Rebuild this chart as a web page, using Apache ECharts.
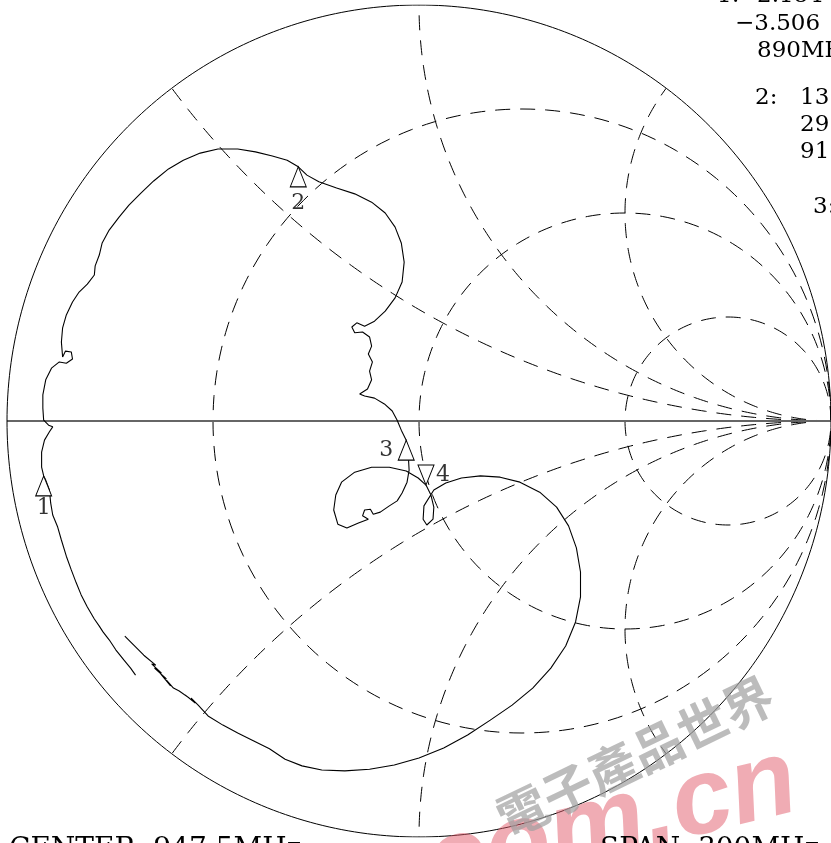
<!DOCTYPE html>
<html>
<head>
<meta charset="utf-8">
<script src="https://cdn.jsdelivr.net/npm/echarts@6/dist/echarts.min.js"></script>
<style>
html, body { margin: 0; padding: 0; background: #fff; }
#chart { width: 831px; height: 843px; }
</style>
</head>
<body>
<div id="chart"></div>
<script>
// S11 trace, reflection coefficient (real / imaginary), from sweep start to stop
var traceRe = [-0.688, -0.700, -0.716, -0.736, -0.752, -0.767, -0.776, -0.788, -0.805, -0.820,
  -0.832, -0.844, -0.856, -0.868, -0.877, -0.889, -0.894, -0.897, -0.906, -0.911,
  -0.916, -0.916, -0.909, -0.897, -0.889, -0.899, -0.911, -0.913, -0.913, -0.906,
  -0.892, -0.873, -0.856, -0.841, -0.844, -0.858, -0.865, -0.868, -0.865, -0.856,
  -0.841, -0.825, -0.805, -0.788, -0.786, -0.776, -0.769, -0.752, -0.728, -0.704,
  -0.675, -0.644, -0.608, -0.572, -0.531, -0.488, -0.440, -0.397, -0.356, -0.320,
  -0.293, -0.272, -0.243, -0.200, -0.156, -0.115, -0.082, -0.058, -0.043, -0.036,
  -0.041, -0.058, -0.082, -0.108, -0.132, -0.151, -0.163, -0.156, -0.137, -0.120,
  -0.115, -0.123, -0.113, -0.120, -0.115, -0.125, -0.144, -0.132, -0.108, -0.084,
  -0.065, -0.053, -0.043, -0.031, -0.026, -0.024, -0.029, -0.041, -0.053, -0.072,
  -0.094, -0.111, -0.118, -0.132, -0.137, -0.123, -0.147, -0.175, -0.197, -0.207,
  -0.202, -0.188, -0.156, -0.115, -0.072, -0.031, -0.002, 0.017, 0.029, 0.036,
  0.034, 0.019, 0.010, 0.012, 0.036, 0.065, 0.103, 0.149, 0.197, 0.245,
  0.293, 0.334, 0.363, 0.382, 0.392, 0.392, 0.380, 0.356, 0.320, 0.276,
  0.226, 0.173, 0.118, 0.060, 0.000, -0.060, -0.120, -0.180, -0.236, -0.284,
  -0.325, -0.363, -0.401, -0.440, -0.476, -0.512, -0.536, -0.553, -0.543, -0.567,
  -0.555, -0.582, -0.596, -0.613, -0.603, -0.627, -0.613, -0.642, -0.625, -0.649,
  -0.639, -0.668, -0.688, -0.702, -0.714];
var traceIm = [-0.611, -0.594, -0.575, -0.550, -0.526, -0.507, -0.493, -0.476, -0.447, -0.418,
  -0.389, -0.358, -0.325, -0.286, -0.255, -0.226, -0.197, -0.166, -0.142, -0.132,
  -0.111, -0.075, -0.046, -0.026, -0.014, -0.010, 0.002, 0.031, 0.063, 0.099,
  0.127, 0.142, 0.139, 0.149, 0.166, 0.168, 0.154, 0.190, 0.224, 0.255,
  0.286, 0.310, 0.329, 0.351, 0.373, 0.399, 0.428, 0.459, 0.490, 0.519,
  0.548, 0.577, 0.606, 0.627, 0.644, 0.654, 0.654, 0.647, 0.637, 0.627,
  0.611, 0.591, 0.575, 0.560, 0.546, 0.526, 0.500, 0.466, 0.428, 0.382,
  0.334, 0.296, 0.264, 0.240, 0.228, 0.236, 0.226, 0.212, 0.214, 0.202,
  0.180, 0.161, 0.142, 0.120, 0.099, 0.077, 0.065, 0.060, 0.055, 0.041,
  0.024, 0.002, -0.022, -0.046, -0.082, -0.118, -0.147, -0.173, -0.192, -0.204,
  -0.219, -0.224, -0.212, -0.214, -0.228, -0.236, -0.245, -0.257, -0.248, -0.214,
  -0.178, -0.147, -0.123, -0.111, -0.111, -0.120, -0.137, -0.154, -0.178, -0.207,
  -0.236, -0.250, -0.236, -0.204, -0.166, -0.149, -0.137, -0.132, -0.135, -0.147,
  -0.171, -0.207, -0.252, -0.305, -0.363, -0.423, -0.483, -0.541, -0.594, -0.642,
  -0.683, -0.719, -0.755, -0.786, -0.810, -0.827, -0.837, -0.841, -0.839, -0.829,
  -0.813, -0.788, -0.769, -0.750, -0.731, -0.709, -0.683, -0.666, -0.678, -0.659,
  -0.668, -0.649, -0.642, -0.623, -0.637, -0.608, -0.620, -0.594, -0.606, -0.584,
  -0.587, -0.563, -0.543, -0.529, -0.517];

// markers
var markerNames = ['1', '2', '3', '4'];
var markerRe = [-0.911, -0.293, -0.031, 0.017];
var markerIm = [-0.132, 0.611, -0.046, -0.154];

// Smith grid
var resistances = [1 / 3, 1, 3];
var reactances = [0.5, 1, 2, -0.5, -1, -2];

// annotation texts
var readout = [
  {text: '1:', x: 717, y: -4},
  {text: '2.184', x: 757, y: -4},
  {text: '\u22123.506', x: 735, y: 24},
  {text: '890MHz', x: 757, y: 51},
  {text: '2:', x: 755, y: 98},
  {text: '13.58', x: 800, y: 98},
  {text: '29.13', x: 800, y: 125},
  {text: '915MHz', x: 800, y: 152},
  {text: '3:', x: 813, y: 207}
];
var footer = [
  {text: 'CENTER  947.5MHz', x: 9},
  {text: 'SPAN  300MHz', x: 600}
];

function arc(cx, cy, r, a0, a1, n) {
  var pts = [];
  for (var i = 0; i <= n; i++) {
    var a = a0 + (a1 - a0) * i / n;
    pts.push([cx + r * Math.cos(a), cy + r * Math.sin(a)]);
  }
  return pts;
}

function rCircle(r) {
  return arc(r / (1 + r), 0, 1 / (1 + r), Math.PI, 3 * Math.PI, 240);
}

function xArc(x) {
  var cy = 1 / x, rad = Math.abs(1 / x);
  var px = (x * x - 1) / (x * x + 1), py = 2 * x / (x * x + 1);
  var a0 = x > 0 ? -Math.PI / 2 : Math.PI / 2;
  var a1 = Math.atan2(py - cy, px - 1);
  if (x > 0 && a1 > a0) a1 -= 2 * Math.PI;
  if (x < 0 && a1 < a0) a1 += 2 * Math.PI;
  return arc(1, cy, rad, a0, a1, 200);
}

var dashStyle = {color: '#000', width: 1, type: [15, 10]};
var series = [];

resistances.forEach(function (r) {
  series.push({type: 'line', data: rCircle(r), showSymbol: false, silent: true,
    lineStyle: dashStyle, z: 1});
});
reactances.forEach(function (x) {
  series.push({type: 'line', data: xArc(x), showSymbol: false, silent: true,
    lineStyle: dashStyle, z: 1});
});

// real axis and outer circle
series.push({type: 'line', data: [[-1, 0], [1, 0]], showSymbol: false, silent: true,
  lineStyle: {color: '#666', width: 2}, z: 2});
series.push({type: 'line', data: arc(0, 0, 1, 0, 2 * Math.PI, 400), showSymbol: false, silent: true,
  lineStyle: {color: '#000', width: 1}, z: 2});

// measured trace
series.push({
  type: 'line',
  data: traceRe.map(function (v, i) { return [v, traceIm[i]]; }),
  showSymbol: false,
  lineStyle: {color: '#000', width: 1.1},
  z: 3
});

// marker triangles
var markerData = markerNames.map(function (n, i) {
  var down = i === 3;
  return {
    name: n,
    value: [markerRe[i], markerIm[i]],
    symbolRotate: down ? 180 : 0,
    symbolOffset: [0, down ? -10 : 10]
  };
});
series.push({
  type: 'scatter',
  data: markerData,
  symbol: 'triangle',
  symbolSize: [16, 20],
  itemStyle: {color: '#fff', borderColor: '#000', borderWidth: 1, opacity: 1},
  z: 4
});

// marker labels
var labelOffsets = [[0, 32], [0, 36], [-20, 10], [17, -10]];
series.push({
  type: 'scatter',
  data: markerNames.map(function (n, i) {
    return {name: n, value: [markerRe[i], markerIm[i]],
      label: {offset: labelOffsets[i]}};
  }),
  symbolSize: 1,
  itemStyle: {color: 'rgba(0,0,0,0)'},
  label: {
    show: true, position: 'inside', formatter: '{b}',
    fontFamily: 'DejaVu Serif', fontSize: 22, color: '#000'
  },
  z: 5
});

var graphics = [];
readout.forEach(function (t) {
  graphics.push({type: 'text', x: t.x, y: t.y, z: 10,
    style: {text: t.text, font: '23px "DejaVu Serif"', fill: '#000', verticalAlign: 'middle'}});
});
footer.forEach(function (t) {
  graphics.push({type: 'text', x: t.x, y: 836, z: 10,
    style: {text: t.text, font: '28px "DejaVu Serif"', fill: '#000', verticalAlign: 'top'}});
});
// site watermark
graphics.push({type: 'text', x: 500, y: 822, rotation: 0.45, z: 8,
  style: {text: '電子產品世界', font: 'bold 50px "Noto Sans CJK TC"', fill: 'rgba(160,160,160,0.7)',
    verticalAlign: 'middle'}});
graphics.push({type: 'text', x: 428, y: 870, rotation: 0.24, z: 7,
  style: {text: 'com.cn', font: 'italic bold 108px "Liberation Sans"', fill: 'rgba(226,90,105,0.5)',
    verticalAlign: 'middle'}});

var chart = echarts.init(document.getElementById('chart'));
chart.setOption({
  animation: false,
  backgroundColor: '#fff',
  grid: {left: 7, top: 5, width: 832, height: 832},
  xAxis: {type: 'value', min: -1, max: 1, show: false},
  yAxis: {type: 'value', min: -1, max: 1, show: false},
  graphic: graphics,
  series: series
});
</script>
</body>
</html>
